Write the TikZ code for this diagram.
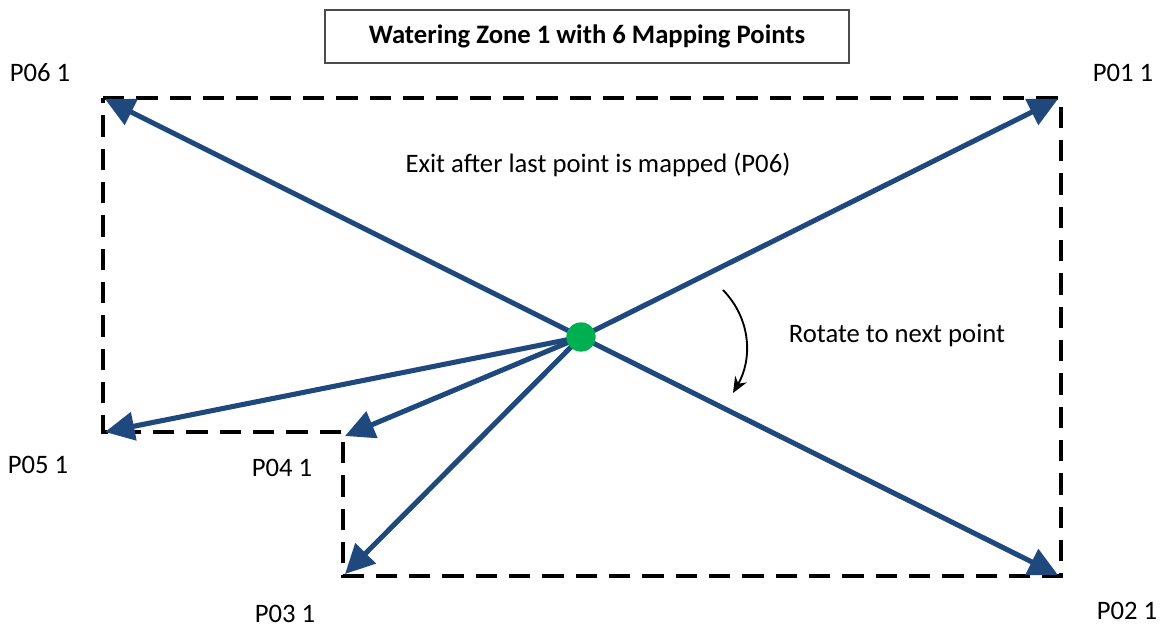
\documentclass[tikz,border=0pt]{standalone}
\usepackage{fontspec}
\setmainfont{Carlito}
\usetikzlibrary{arrows.meta}
\definecolor{arrowblue}{HTML}{1F497D}
\definecolor{dotgreen}{HTML}{00B050}
\begin{document}
\begin{tikzpicture}[x=0.75pt,y=-0.75pt,
  zone/.style={line width=3pt,dash pattern=on 16pt off 9pt},
  ray/.style={arrowblue,line width=3.8pt,-{Triangle[length=22pt,width=21pt]}},
  lbl/.style={font=\fontsize{20}{24}\selectfont,inner sep=0pt},
  turn/.style={line width=1.4pt,-{Stealth[length=12pt,width=10pt]}}]
\useasboundingbox (0,0) rectangle (1163,629);
% zone outline
\coordinate (z1) at (103,98);
\coordinate (z2) at (1061,98);
\coordinate (z3) at (1061,576);
\coordinate (z4) at (343,576);
\coordinate (z5) at (343,432);
\coordinate (z6) at (103,432);
\draw[zone] (z1) -- (z2) -- (z3) -- (z4) -- (z5) -- (z6) -- cycle;
% title
\node[draw=black!70,line width=0.8pt,minimum width=524*0.75pt,minimum height=53*0.75pt,
      font=\fontsize{20}{24}\selectfont\bfseries] (title) at (587,36.5) {Watering Zone 1 with 6 Mapping Points};
% mapping point tips
\coordinate (t1) at (1058,99);
\coordinate (t2) at (1058,575);
\coordinate (t3) at (345,574);
\coordinate (t4) at (345,436);
\coordinate (t5) at (105,432);
\coordinate (t6) at (105,99);
\coordinate (c) at (581,337);
\foreach \t in {t1,t2,t3,t4,t5,t6} \draw[ray] (c) -- (\t);
\node[circle,fill=dotgreen,minimum size=22pt,inner sep=0pt] (dot) at (c) {};
% labels
\node[lbl] (l6) at (40,73) {P06 1};
\node[lbl] (l1) at (1123,73) {P01 1};
\node[lbl] (l5) at (38,465) {P05 1};
\node[lbl] (l4) at (282,468) {P04 1};
\node[lbl] (l3) at (285,614) {P03 1};
\node[lbl] (l2) at (1127,611) {P02 1};
\node[lbl] (exit) at (598,165) {Exit after last point is mapped (P06)};
\node[lbl] (rot) at (897,335) {Rotate to next point};
% rotation arrow
\coordinate (r1) at (723,290);
\coordinate (r2) at (733,393);
\draw[turn] (r1) .. controls (752,320) and (752,360) .. (r2);
\end{tikzpicture}
\end{document}
